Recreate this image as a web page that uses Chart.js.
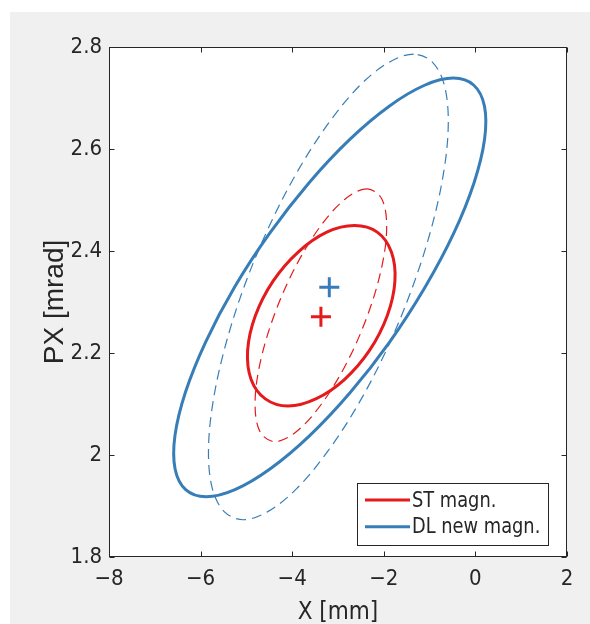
<!DOCTYPE html>
<html>
<head>
<meta charset="utf-8">
<script src="https://cdn.jsdelivr.net/npm/chart.js@4/dist/chart.umd.min.js"></script>
<style>
  html, body { margin: 0; padding: 0; background: #ffffff; }
  canvas { display: block; }
</style>
</head>
<body>
<canvas id="c" width="590" height="624"></canvas>
<script>
// ---- data ----
const xTickValues = [-8, -6, -4, -2, 0, 2];
const xTickLabels = ['\u22128', '\u22126', '\u22124', '\u22122', '0', '2'];
const yTickValues = [1.8, 2.0, 2.2, 2.4, 2.6, 2.8];
const yTickLabels = ['1.8', '2', '2.2', '2.4', '2.6', '2.8'];

const seriesNames = ['ST magn.', 'DL new magn.'];

// ST magn. : solid ellipse (points around the outline, starting at the top, anticlockwise)
const stSolidX = [-2.639,-3.245,-3.870,-4.418,-4.805,-4.973,-4.897,-4.587,-4.091,-3.485,-2.860,-2.312,-1.925,-1.757,-1.834,-2.143];
const stSolidY = [2.450,2.437,2.398,2.341,2.273,2.205,2.148,2.110,2.096,2.110,2.148,2.205,2.273,2.341,2.398,2.437];
// ST magn. : dashed ellipse
const stDashX = [-2.362,-2.829,-3.380,-3.929,-4.394,-4.704,-4.811,-4.699,-4.386,-3.919,-3.368,-2.819,-2.354,-2.044,-1.937,-2.049];
const stDashY = [2.522,2.503,2.449,2.369,2.274,2.179,2.099,2.045,2.026,2.045,2.099,2.179,2.274,2.369,2.449,2.503];
// DL new magn. : solid ellipse
const dlSolidX = [-0.480,-1.110,-1.882,-2.742,-3.631,-4.490,-5.260,-5.888,-6.331,-6.560,-6.558,-6.326,-5.880,-5.250,-4.478,-3.618,-2.729,-1.870,-1.100,-0.472,-0.029,0.200,0.198,-0.034];
const dlSolidY = [2.739,2.725,2.684,2.619,2.534,2.435,2.329,2.222,2.123,2.038,1.973,1.932,1.918,1.932,1.973,2.038,2.123,2.222,2.329,2.435,2.534,2.619,2.684,2.725];
// DL new magn. : dashed ellipse
const dlDashX = [-1.348,-1.888,-2.518,-3.195,-3.872,-4.505,-5.050,-5.469,-5.734,-5.828,-5.743,-5.485,-5.072,-4.532,-3.903,-3.226,-2.548,-1.915,-1.370,-0.951,-0.686,-0.592,-0.678,-0.935];
const dlDashY = [2.786,2.770,2.725,2.652,2.558,2.448,2.330,2.211,2.101,2.007,1.934,1.889,1.873,1.889,1.934,2.007,2.101,2.211,2.330,2.448,2.558,2.652,2.725,2.770];
// centroids (+ markers)
const stCenterX = [-3.373];
const stCenterY = [2.271];
const dlCenterX = [-3.190];
const dlCenterY = [2.329];

// ---- styling ----
const RED = '#e41a1c';
const BLUE = '#377eb8';
const AXIS = '#262626';
const NARROW = "'Liberation Sans Narrow', 'DejaVu Sans Condensed', 'Liberation Sans', sans-serif";
const REGULAR = "'Liberation Sans', Arial, sans-serif";

function pts(xs, ys) { return xs.map((x, i) => ({ x: x, y: ys[i] })); }

const curve = { showLine: true, pointRadius: 0, pointHoverRadius: 0, tension: 0.34, fill: false, closed: true };

const datasets = [
  { label: seriesNames[0] + ' centre', data: pts(stCenterX, stCenterY), showLine: false, pointStyle: 'cross', pointRadius: 10, pointBorderWidth: 3, borderColor: RED, backgroundColor: RED },
  { label: seriesNames[1] + ' centre', data: pts(dlCenterX, dlCenterY), showLine: false, pointStyle: 'cross', pointRadius: 10, pointBorderWidth: 3, borderColor: BLUE, backgroundColor: BLUE },
  Object.assign({ label: seriesNames[0], legend: true, data: pts(stSolidX, stSolidY), borderColor: RED, borderWidth: 3 }, curve),
  Object.assign({ label: seriesNames[1], legend: true, data: pts(dlSolidX, dlSolidY), borderColor: BLUE, borderWidth: 3 }, curve),
  Object.assign({ label: seriesNames[0] + ' (dashed)', data: pts(stDashX, stDashY), borderColor: RED, borderWidth: 1.2, borderDash: [10, 6] }, curve),
  Object.assign({ label: seriesNames[1] + ' (dashed)', data: pts(dlDashX, dlDashY), borderColor: BLUE, borderWidth: 1.2, borderDash: [10, 6] }, curve)
];

// close the ellipse outlines smoothly using the line element's loop mode
const loopPlugin = {
  id: 'loop',
  afterDatasetsUpdate(chart) {
    chart.data.datasets.forEach((d, i) => {
      if (!d.closed) return;
      const el = chart.getDatasetMeta(i).dataset;
      if (!el) return;
      el._loop = true;
      el._fullLoop = true;
      delete el._segments;
      delete el._path;
      el._pointsUpdated = false;
    });
  }
};

const backgroundPlugin = {
  id: 'bg',
  beforeDraw(chart) {
    const ctx = chart.ctx;
    const a = chart.chartArea;
    ctx.save();
    ctx.fillStyle = '#ffffff';
    ctx.fillRect(0, 0, chart.width, chart.height);
    ctx.fillStyle = '#f0f0f0';
    ctx.fillRect(10, 12, chart.width - 10, chart.height - 12);
    ctx.fillStyle = '#ffffff';
    ctx.fillRect(a.left, a.top, a.right - a.left, a.bottom - a.top);
    ctx.restore();
  }
};

const boxPlugin = {
  id: 'box',
  afterDatasetsDraw(chart) {
    const ctx = chart.ctx;
    const a = chart.chartArea;
    const xs = chart.scales.x, ys = chart.scales.y;
    const L = Math.round(a.left) + 0.5, R = Math.round(a.right) - 0.5;
    const T = Math.round(a.top) + 0.5, B = Math.round(a.bottom) - 0.5;
    ctx.save();
    ctx.strokeStyle = AXIS;
    ctx.lineWidth = 1;
    ctx.setLineDash([]);
    ctx.strokeRect(L, T, R - L, B - T);
    const tl = 5;
    ctx.beginPath();
    xTickValues.forEach(v => {
      const px = Math.round(xs.getPixelForValue(v)) + 0.5;
      ctx.moveTo(px, B); ctx.lineTo(px, B - tl);
      ctx.moveTo(px, T); ctx.lineTo(px, T + tl);
    });
    yTickValues.forEach(v => {
      const py = Math.round(ys.getPixelForValue(v)) + 0.5;
      ctx.moveTo(L, py); ctx.lineTo(L + tl, py);
      ctx.moveTo(R, py); ctx.lineTo(R - tl, py);
    });
    ctx.stroke();
    ctx.restore();
  }
};

const legendPlugin = {
  id: 'boxLegend',
  afterDraw(chart) {
    const ctx = chart.ctx;
    const items = chart.data.datasets.filter(d => d.legend);
    const x0 = 357.5, y0 = 483.5, w = 191, h = 62;
    ctx.save();
    ctx.fillStyle = '#ffffff';
    ctx.fillRect(x0, y0, w, h);
    ctx.strokeStyle = AXIS;
    ctx.lineWidth = 1;
    ctx.strokeRect(x0, y0, w, h);
    items.forEach((d, i) => {
      const cy = 500 + i * 26.7;
      ctx.strokeStyle = d.borderColor;
      ctx.lineWidth = 3;
      ctx.beginPath();
      ctx.moveTo(365, cy); ctx.lineTo(410, cy);
      ctx.stroke();
      ctx.save();
      ctx.translate(412, cy + 1);
      ctx.scale(0.9, 1);
      ctx.font = '22px ' + NARROW;
      ctx.textBaseline = 'middle';
      ctx.textAlign = 'left';
      ctx.fillStyle = AXIS;
      ctx.fillText(d.label, 0, 0);
      ctx.restore();
    });
    ctx.restore();
  }
};

new Chart(document.getElementById('c'), {
  type: 'scatter',
  data: { datasets: datasets },
  options: {
    responsive: false,
    animation: false,
    devicePixelRatio: 1,
    events: [],
    layout: { padding: { left: 0, top: 47, right: 23, bottom: 0 } },
    plugins: { legend: { display: false }, tooltip: { enabled: false } },
    scales: {
      x: {
        type: 'linear', min: -8, max: 2,
        afterFit(s) { s.height = 67; },
        afterBuildTicks(s) { s.ticks = xTickValues.map(v => ({ value: v })); },
        grid: { display: false, drawTicks: false },
        border: { display: false },
        ticks: {
          padding: 9,
          color: AXIS,
          font: { family: NARROW, size: 22 },
          maxRotation: 0,
          autoSkip: false,
          callback: (v) => xTickLabels[xTickValues.indexOf(v)]
        },
        title: {
          display: true, text: 'X [mm]', color: AXIS,
          font: { family: NARROW, size: 24, lineHeight: 1 },
          padding: { top: 0, bottom: -1 }
        }
      },
      y: {
        type: 'linear', min: 1.8, max: 2.8,
        afterFit(s) { s.width = 109; },
        afterBuildTicks(s) { s.ticks = yTickValues.map(v => ({ value: v })); },
        grid: { display: false, drawTicks: false },
        border: { display: false },
        ticks: {
          padding: 7,
          color: AXIS,
          font: { family: NARROW, size: 22 },
          autoSkip: false,
          callback: (v) => yTickLabels[yTickValues.findIndex(t => Math.abs(t - v) < 1e-9)]
        },
        title: {
          display: true, text: 'PX [mrad]', color: AXIS,
          font: { family: REGULAR, size: 28, lineHeight: 1 },
          padding: { top: 41, bottom: 0 }
        }
      }
    }
  },
  plugins: [loopPlugin, backgroundPlugin, boxPlugin, legendPlugin]
});
</script>
</body>
</html>
